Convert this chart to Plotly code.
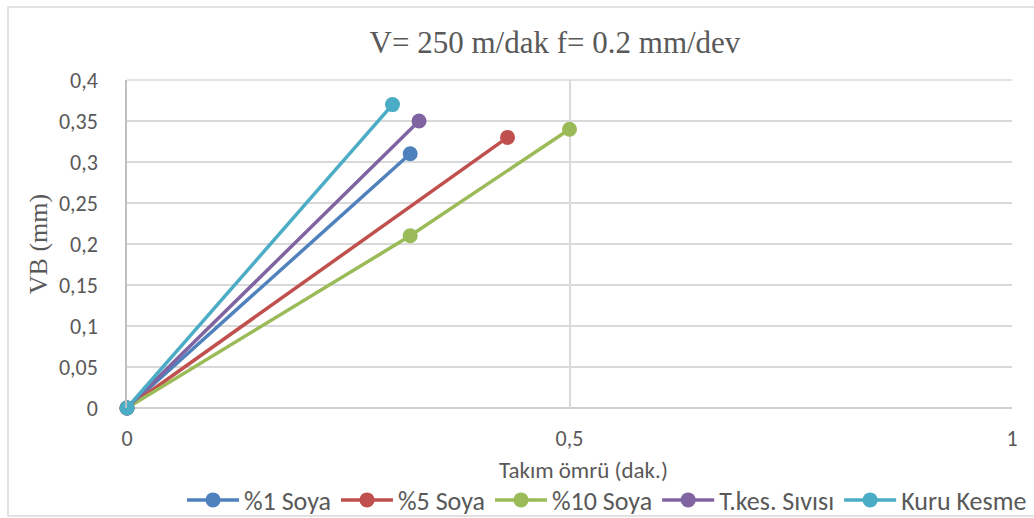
import plotly.graph_objects as go

# Tool wear (VB) versus tool life for each cutting condition
series_names = ["%1 Soya", "%5 Soya", "%10 Soya", "T.kes. Sıvısı", "Kuru Kesme"]
series_colors = ["#4f81bd", "#c0504d", "#9bbb59", "#8064a2", "#4bacc6"]

soya1_t = [0, 0.32]
soya1_vb = [0, 0.31]

soya5_t = [0, 0.43]
soya5_vb = [0, 0.33]

soya10_t = [0, 0.32, 0.5]
soya10_vb = [0, 0.21, 0.34]

tkes_t = [0, 0.33]
tkes_vb = [0, 0.35]

kuru_t = [0, 0.30]
kuru_vb = [0, 0.37]

x_ticks = [0, 0.5, 1]
x_tick_text = ["0", "0,5", "1"]
y_ticks = [0, 0.05, 0.1, 0.15, 0.2, 0.25, 0.3, 0.35, 0.4]
y_tick_text = ["0", "0,05", "0,1", "0,15", "0,2", "0,25", "0,3", "0,35", "0,4"]

xs = [soya1_t, soya5_t, soya10_t, tkes_t, kuru_t]
ys = [soya1_vb, soya5_vb, soya10_vb, tkes_vb, kuru_vb]

W, H = 1034, 518
ML, MR, MT, MB = 127, 22, 80, 110

sans = "Carlito, Lato, Liberation Sans, sans-serif"
serif = "Liberation Serif, Times New Roman, serif"
grey = "#595959"

fig = go.Figure()
for name, color, x, y in zip(series_names, series_colors, xs, ys):
    fig.add_trace(go.Scatter(
        x=x, y=y, name=name, mode="lines+markers",
        line=dict(color=color, width=3.5),
        marker=dict(color=color, size=15),
        cliponaxis=False,
    ))

pw = W - ML - MR
ph = H - MT - MB

fig.update_layout(
    width=W, height=H,
    margin=dict(l=ML, r=MR, t=MT, b=MB, autoexpand=False),
    paper_bgcolor="white", plot_bgcolor="white",
    title=dict(
        text="V= 250 m/dak f= 0.2 mm/dev",
        font=dict(family=serif, size=31, color=grey),
        x=555 / W, xref="container", xanchor="center",
        y=1 - 42 / H, yref="container", yanchor="middle",
    ),
    xaxis=dict(
        range=[0, 1], tickvals=x_ticks, ticktext=x_tick_text,
        showgrid=True, gridcolor="#d9d9d9", gridwidth=1.5,
        zeroline=False, showline=False,
        ticks="outside", ticklen=11, tickcolor="rgba(0,0,0,0)",
        tickfont=dict(family=sans, size=22, color=grey),
    ),
    yaxis=dict(
        range=[0, 0.4], tickvals=y_ticks, ticktext=y_tick_text,
        showgrid=True, gridcolor="#d9d9d9", gridwidth=1.5,
        zeroline=False, showline=True, linecolor="#bfbfbf", linewidth=1.5,
        ticks="outside", ticklen=23, tickcolor="rgba(0,0,0,0)",
        tickfont=dict(family=sans, size=22, color=grey),
        title=dict(text="VB (mm)", standoff=4,
                   font=dict(family=serif, size=26, color=grey)),
    ),
    legend=dict(
        orientation="h", xref="container", yref="container",
        x=1032 / W, xanchor="right", y=1 - 500 / H, yanchor="middle",
        font=dict(family=sans, size=26, color=grey),
        itemwidth=52, bgcolor="rgba(0,0,0,0)", tracegroupgap=0,
    ),
    showlegend=True,
)

# x-axis title
fig.add_annotation(
    text="Takım ömrü (dak.)", xref="paper", yref="paper",
    x=(583 - ML) / pw, y=-(470 - MT - ph) / ph,
    xanchor="center", yanchor="middle", showarrow=False,
    font=dict(family=sans, size=23, color=grey),
)

# x-axis base line, light border of the plot area, and chart frame
fig.add_shape(type="line", xref="paper", yref="paper", x0=0, x1=1, y0=0, y1=0,
              line=dict(color="#bfbfbf", width=1.5), layer="below")
fig.add_shape(type="line", xref="paper", yref="paper", x0=0, x1=1, y0=1, y1=1,
              line=dict(color="#d9d9d9", width=1.5), layer="below")
fig.add_shape(type="rect", xref="paper", yref="paper",
              x0=(8 - ML) / pw, x1=(W + 5 - ML) / pw,
              y0=-(516 - MT - ph) / ph, y1=1 + (MT - 7) / ph,
              line=dict(color="#d9d9d9", width=1.5), layer="below")

fig.write_html("out.html")
